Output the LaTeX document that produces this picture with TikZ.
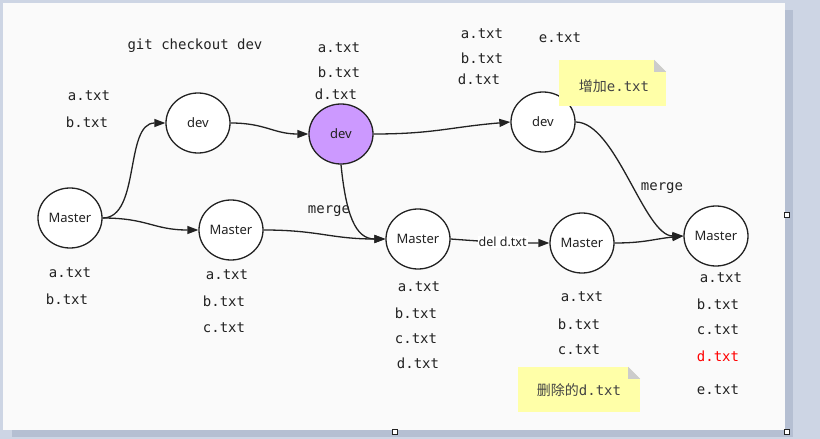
\documentclass[tikz,border=0pt]{standalone}
\usepackage{fontspec}
\usetikzlibrary{shapes.geometric,arrows.meta}
\newfontfamily\monof{DejaVu Sans Mono}
\newfontfamily\sansf{Noto Sans}
\newfontfamily\cjkf{Noto Sans CJK SC}
\definecolor{outer}{HTML}{CDD5E4}
\definecolor{shadowc}{HTML}{B5BFD2}
\definecolor{canvas}{HTML}{FAFAFA}
\definecolor{ink}{HTML}{222222}
\definecolor{lilac}{HTML}{CC99FF}
\definecolor{noteyellow}{HTML}{FFFFA8}
\definecolor{foldgrey}{HTML}{CCCCCC}
\tikzset{
  commit/.style={ellipse, draw=ink, line width=1.3pt, fill=white,
    minimum width=64pt, minimum height=60pt, inner sep=0pt,
    font=\sansf\fontsize{13}{15}\selectfont, text=ink},
  ftxt/.style={font=\monof\fontsize{14}{16}\selectfont, text=ink, inner sep=0pt},
  edge/.style={draw=ink, line width=1.3pt, -{Triangle[length=11pt,width=8pt]}},
  notebox/.style={rectangle, fill=noteyellow, inner sep=0pt,
    font=\monof\fontsize{14}{16}\selectfont, text=ink!85},
  handle/.style={rectangle, draw=ink, line width=0.8pt, fill=white,
    minimum size=5pt, inner sep=0pt},
  elabel/.style={fill=white, inner sep=1pt, font=\sansf\fontsize{12.5}{14}\selectfont, text=ink}
}
\begin{document}
\begin{tikzpicture}[x=1pt,y=-1pt]
\useasboundingbox (0,0) rectangle (820,439);
% background
\fill[outer] (0,0) rectangle (820,439);
\fill[shadowc] (12,429) rectangle (793,437);
\fill[shadowc] (785,10) rectangle (793,437);
\fill[canvas] (3,3) rectangle (785,430);

% commits
\node[commit] (m1) at (70,218) {Master};
\node[commit] (d1) at (198,123) {dev};
\node[commit, fill=lilac] (d2) at (341,134) {dev};
\node[commit] (d3) at (543,122) {dev};
\node[commit] (m2) at (231,230) {Master};
\node[commit] (m3) at (418,239) {Master};
\node[commit] (m4) at (582,243) {Master};
\node[commit] (m5) at (716,236) {Master};

% connectors
\draw[edge] (m1.east) .. controls +(38,0) and +(-41,0) .. (d1.west);
\draw[edge] (m1.east) .. controls +(45,0) and +(-45,0) .. (m2.west);
\draw[edge] (d1.east) .. controls +(35,0) and +(-35,0) .. (d2.west);
\draw[edge] (d2.east) .. controls +(60,0) and +(-60,5) .. (d3.west);
\draw[edge] (d2.south) .. controls +(5,50) and +(-30,0) .. (m3.west);
\draw[edge] (m2.east) .. controls +(55,0) and +(-55,0) .. (m3.west);
\draw[edge] (m3.east) .. controls +(40,3) and +(-40,0) .. node[elabel, pos=0.53] (lbl) {del d.txt} (m4.west);
\draw[edge] (m4.east) .. controls +(30,0) and +(-30,3) .. (m5.west);
\draw[edge] (d3.east) .. controls +(40,0) and +(-39,0) .. (m5.west);

% merge labels
\node[ftxt] (mg1) at (329,211) {merge};
\node[ftxt] (mg2) at (662,188) {merge};

% top texts
\node[ftxt] (gc) at (195,46) {git checkout dev};
\node[ftxt] (t1a) at (89,96) {a.txt};
\node[ftxt] (t1b) at (87,122) {b.txt};
\node[ftxt] (t2a) at (339,48) {a.txt};
\node[ftxt] (t2b) at (339,72) {b.txt};
\node[ftxt] (t2d) at (336,94) {d.txt};
\node[ftxt] (t3a) at (482,34) {a.txt};
\node[ftxt] (t3b) at (482,58) {b.txt};
\node[ftxt] (t3d) at (479,79) {d.txt};
\node[ftxt] (t3e) at (560,38) {e.txt};

% bottom texts
\node[ftxt] (b1a) at (70,273) {a.txt};
\node[ftxt] (b1b) at (67,299) {b.txt};
\node[ftxt] (b2a) at (227,275) {a.txt};
\node[ftxt] (b2b) at (224,301) {b.txt};
\node[ftxt] (b2c) at (224,328) {c.txt};
\node[ftxt] (b3a) at (419,287) {a.txt};
\node[ftxt] (b3b) at (416,313) {b.txt};
\node[ftxt] (b3c) at (416,339) {c.txt};
\node[ftxt] (b3d) at (418,363) {d.txt};
\node[ftxt] (b4a) at (582,297) {a.txt};
\node[ftxt] (b4b) at (579,324) {b.txt};
\node[ftxt] (b4c) at (579,350) {c.txt};
\node[ftxt] (b5a) at (721,278) {a.txt};
\node[ftxt] (b5b) at (718,304) {b.txt};
\node[ftxt] (b5c) at (718,330) {c.txt};
\node[ftxt, text=red] (b5d) at (718,356) {d.txt};
\node[ftxt] (b5e) at (718,390) {e.txt};

% notes
\node[notebox, minimum width=107pt, minimum height=46pt] (n1) at (612.5,83) {};
\fill[canvas] (n1.north east) -- ++(-12,0) -- ++(12,12) -- cycle;
\fill[foldgrey] ([xshift=-12pt]n1.north east) -- ++(12,12) -- ++(-12,0) -- cycle;
\node[notebox, fill=none] (n1t) at (614,86) {{\cjkf\fontsize{14}{16}\selectfont 增加}e.txt};

\node[notebox, minimum width=122pt, minimum height=45pt] (n2) at (579,389.5) {};
\fill[canvas] (n2.north east) -- ++(-12,0) -- ++(12,12) -- cycle;
\fill[foldgrey] ([xshift=-12pt]n2.north east) -- ++(12,12) -- ++(-12,0) -- cycle;
\node[notebox, fill=none] (n2t) at (579,390) {{\cjkf\fontsize{14}{16}\selectfont 删除的}d.txt};

% selection handles
\node[handle] (h1) at (787,215) {};
\node[handle] (h2) at (395,432) {};
\node[handle] (h3) at (787,432) {};
\end{tikzpicture}
\end{document}
